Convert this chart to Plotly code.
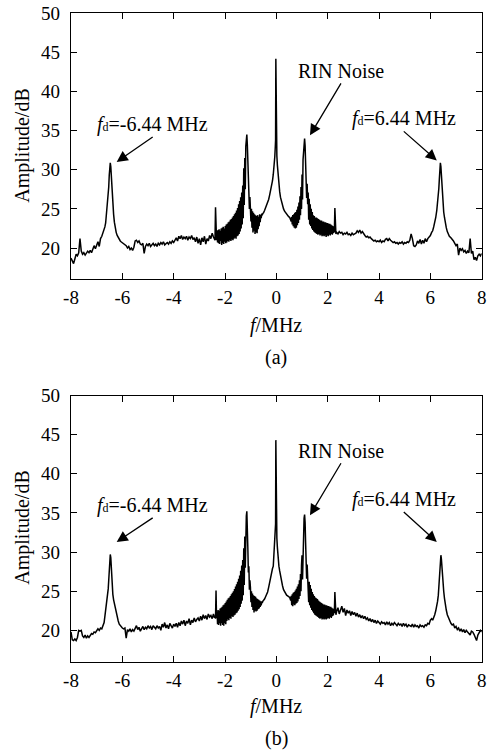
import plotly.graph_objects as go

FONT = "Liberation Serif, Times New Roman, DejaVu Serif, serif"

# ---------------- data (frequency in MHz, amplitude in dB) ----------------
# region 1: left edge baseline
F_R1 = [-8.00,-7.95,-7.90,-7.85,-7.80,-7.75,-7.70,-7.65,-7.60,-7.55,
        -7.50,-7.45,-7.40,-7.35,-7.30,-7.25,-7.20,-7.15,-7.10,-7.05,
        -7.00,-6.95,-6.90,-6.85,-6.80,-6.75]
A_R1 = [18.7,18.4,18.0,18.6,19.2,19.0,19.4,21.2,19.6,19.2,
        19.4,19.1,19.4,19.6,19.4,19.7,19.4,20.0,20.3,19.9,
        20.4,20.8,20.2,21.2,21.5,21.9]
B_R1 = [19.8,18.8,18.7,18.9,18.7,19.1,20.0,19.9,20.0,19.3,
        19.1,19.4,19.0,19.3,19.1,19.4,19.6,19.5,19.8,19.7,
        19.9,20.2,20.0,20.3,20.2,20.6]
# region 2: Doppler peak at -6.44 MHz
F_R2 = [-6.71,-6.68,-6.65,-6.62,-6.59,-6.57,-6.55,-6.53,-6.51,-6.49,
        -6.47,-6.45,-6.43,-6.41,-6.39,-6.37,-6.34,-6.31,-6.28,-6.24,
        -6.20,-6.16,-6.12,-6.08]
A_R2 = [22.3,22.7,23.2,24.2,25.0,25.8,26.6,27.8,29.3,30.6,
        30.9,30.4,29.0,27.2,26.0,25.2,24.3,23.3,22.6,22.0,
        21.6,21.3,21.0,20.9]
B_R2 = [21.0,21.8,22.5,23.1,23.8,24.5,25.3,26.4,27.9,29.2,
        29.7,29.3,28.0,26.5,25.4,24.6,23.9,23.4,22.8,22.2,
        21.7,21.2,20.8,20.6]
# region 3: baseline -6 ... -2.45 MHz
F_R3 = [-6.05,-6.00,-5.95,-5.90,-5.85,-5.80,-5.75,-5.70,-5.65,-5.60,
        -5.55,-5.50,-5.45,-5.40,-5.35,-5.30,-5.25,-5.20,-5.15,-5.10,
        -5.05,-5.00,-4.95,-4.90,-4.85,-4.80,-4.75,-4.70,-4.65,-4.60,
        -4.55,-4.50,-4.45,-4.40,-4.35,-4.30,-4.25,-4.20,-4.15,-4.10,
        -4.05,-4.00,-3.95,-3.90,-3.85,-3.80,-3.75,-3.70,-3.65,-3.60,
        -3.55,-3.50,-3.45,-3.40,-3.35,-3.30,-3.25,-3.20,-3.15,-3.10,
        -3.05,-3.00,-2.95,-2.90,-2.85,-2.80,-2.75,-2.70,-2.65,-2.60,
        -2.55,-2.50,-2.45]
A_R3 = [20.8,20.7,20.5,20.4,20.3,20.0,20.2,19.8,20.0,19.7,
        20.1,20.9,21.0,20.7,20.9,20.5,20.4,20.6,19.3,20.2,
        20.5,20.3,20.6,20.2,20.4,20.6,20.3,20.5,20.2,20.6,
        20.4,20.7,20.5,20.8,20.4,20.6,20.7,20.5,20.8,20.6,
        20.9,20.7,21.0,21.3,20.9,21.5,21.2,21.6,21.1,21.4,
        21.2,21.5,21.0,21.4,21.2,21.6,21.1,21.3,20.8,21.4,
        20.6,21.2,20.4,21.3,20.8,21.5,20.5,21.2,20.9,21.6,
        21.2,21.9,21.4]
B_R3 = [20.5,20.3,20.2,20.3,19.0,20.1,19.9,20.2,19.8,20.1,
        19.9,20.2,20.6,20.1,20.4,19.9,20.3,20.5,20.1,20.4,
        20.2,20.6,20.3,20.5,20.1,20.6,20.4,20.2,20.6,20.3,
        20.5,20.0,20.8,20.4,21.0,20.3,20.7,20.2,20.9,20.5,
        20.3,20.8,20.5,20.9,20.4,21.0,20.6,21.2,20.8,21.3,
        20.6,21.2,20.9,21.5,20.7,21.3,21.0,21.6,21.1,21.4,
        21.6,21.2,21.8,21.3,22.0,21.5,21.9,21.4,22.1,21.7,
        21.9,21.5,22.1]
# region 4: small spike near -2.37 MHz
F_R4 = [-2.41,-2.39,-2.37,-2.35,-2.33]
A_R4 = [21.2,21.0,25.2,21.4,21.0]
B_R4 = [21.6,21.9,21.5,25.1,21.6]
# region 5: dense RIN band left of -1.15 MHz
F_R5 = [-2.31,-2.29,-2.27,-2.25,-2.23,-2.21,-2.19,-2.17,-2.15,-2.13,
        -2.11,-2.09,-2.07,-2.05,-2.03,-2.01,-1.99,-1.97,-1.95,-1.93,
        -1.91,-1.89,-1.87,-1.85,-1.83,-1.81,-1.79,-1.77,-1.75,-1.73,
        -1.71,-1.69,-1.67,-1.65,-1.63,-1.61,-1.59,-1.57,-1.55,-1.53,
        -1.51,-1.49,-1.47,-1.45,-1.43,-1.41,-1.39,-1.37,-1.35,-1.33,
        -1.31,-1.29]
A_R5 = [22.2,20.7,22.3,20.6,22.4,20.5,22.2,20.9,22.5,20.4,
        22.6,20.6,22.7,20.5,22.5,20.8,22.8,20.6,23.0,20.7,
        23.1,20.9,23.3,20.8,23.4,21.0,23.6,20.9,23.7,21.1,
        23.9,21.0,24.1,21.2,24.3,21.3,24.5,21.2,24.8,21.5,
        25.1,21.6,25.6,21.8,26.0,22.1,26.5,22.5,27.1,23.0,
        28.0,23.8]
B_R5 = [22.4,20.8,22.6,20.7,22.5,20.9,22.8,20.6,22.9,20.9,
        23.0,20.7,23.2,20.6,23.3,20.9,23.5,20.8,23.7,21.2,
        23.9,21.4,24.1,21.3,24.2,21.6,24.4,21.5,24.6,21.8,
        24.8,21.7,25.0,21.9,25.3,22.0,25.6,22.2,25.9,22.3,
        26.2,22.5,26.6,22.7,27.0,23.0,27.6,23.4,28.3,23.8,
        29.0,24.5]
# region 6: RIN peak at -1.15 MHz
F_R6 = [-1.27,-1.25,-1.23,-1.21,-1.19,-1.17,-1.15,-1.13,-1.11,-1.09,
        -1.07,-1.05,-1.03]
A_R6 = [30.2,25.5,31.5,27.5,33.0,34.0,34.5,33.2,30.0,27.2,
        28.0,25.0,26.5]
B_R6 = [30.5,25.8,32.0,28.0,33.6,34.6,35.2,33.8,30.4,27.4,
        28.2,25.2,26.4]
# region 7: band between RIN peak and carrier
F_R7 = [-1.01,-0.99,-0.97,-0.95,-0.93,-0.91,-0.89,-0.87,-0.85,-0.83,
        -0.81,-0.79,-0.77,-0.75,-0.73,-0.71,-0.69,-0.67,-0.65,-0.63,
        -0.61,-0.59,-0.57,-0.55,-0.53]
A_R7 = [25.6,23.4,25.0,22.6,24.7,22.0,24.5,22.2,24.3,21.8,
        24.2,22.0,24.1,21.9,24.2,22.4,24.0,22.8,24.3,23.3,
        24.2,23.8,24.4,24.2,24.4]
B_R7 = [25.5,23.6,25.0,23.0,24.7,22.6,24.5,22.3,24.4,22.5,
        24.3,22.4,24.1,22.5,24.0,22.7,23.9,22.8,23.8,23.0,
        23.7,23.2,23.7,23.5,23.7]
# region 8: central carrier
F_R8 = [-0.50,-0.46,-0.42,-0.38,-0.34,-0.30,-0.26,-0.22,-0.18,-0.15,
        -0.12,-0.10,-0.08,-0.06,-0.04,-0.03,-0.02,-0.01,0.00,0.02,
        0.04,0.06,0.08,0.10,0.13,0.16,0.20,0.24,0.28,0.32,
        0.36,0.40,0.44,0.48]
A_R8 = [24.5,24.8,25.1,25.4,25.8,26.2,26.8,27.4,28.0,28.6,
        29.4,30.0,30.8,31.7,33.0,33.8,44.2,33.8,33.2,31.8,
        30.6,29.6,28.7,28.0,27.2,26.5,25.9,25.4,25.0,24.7,
        24.5,24.3,24.1,24.0]
B_R8 = [23.8,24.0,24.3,24.6,24.9,25.5,26.2,27.0,27.6,27.9,
        28.2,29.5,30.6,31.8,33.0,33.6,44.3,33.4,33.0,31.8,
        30.6,29.6,28.8,28.2,27.6,27.0,26.3,25.7,25.2,24.9,
        24.7,24.5,24.4,24.3]
# region 9: band left of +1.1 MHz
F_R9 = [0.52,0.54,0.56,0.58,0.60,0.62,0.64,0.66,0.68,0.70,
        0.72,0.74,0.76,0.78,0.80,0.82,0.84,0.86,0.88,0.90,
        0.92,0.94,0.96,0.98]
A_R9 = [23.9,23.7,23.8,23.4,24.0,23.0,24.2,22.8,24.3,22.6,
        24.5,22.5,24.6,22.6,24.9,22.9,25.3,23.2,25.8,23.6,
        26.6,24.2,27.8,25.0]
B_R9 = [24.2,24.0,23.8,24.4,23.2,24.6,23.1,24.8,23.3,24.9,
        23.2,25.1,23.4,25.3,23.5,25.6,23.7,25.9,24.0,26.4,
        24.4,27.2,25.0,28.3]
# region 10: RIN peak at +1.1 MHz
F_R10 = [1.00,1.02,1.04,1.06,1.08,1.10,1.12,1.14,1.16,1.18,
         1.20,1.22,1.24]
A_R10 = [29.4,26.2,31.3,32.9,33.7,34.0,33.1,30.8,28.9,26.4,
         28.2,25.6,27.1]
B_R10 = [29.6,26.5,31.6,33.3,34.3,34.8,33.8,31.2,29.0,26.6,
         28.4,25.9,27.0]
# region 11: band right of +1.1 MHz
F_R11 = [1.26,1.28,1.30,1.32,1.34,1.36,1.38,1.40,1.42,1.44,
         1.46,1.48,1.50,1.52,1.54,1.56,1.58,1.60,1.62,1.64,
         1.66,1.68,1.70,1.72,1.74,1.76,1.78,1.80,1.82,1.84,
         1.86,1.88,1.90,1.92,1.94,1.96,1.98,2.00,2.02,2.04,
         2.06,2.08,2.10,2.12,2.14,2.16,2.18,2.20,2.22,2.24]
A_R11 = [23.6,26.3,23.0,25.6,22.8,25.0,22.5,24.6,22.3,24.2,
         22.1,24.1,22.0,23.9,21.9,23.9,21.8,23.8,21.7,23.7,
         21.8,23.6,21.6,23.5,21.7,23.5,21.5,23.4,21.6,23.4,
         21.5,23.3,21.6,23.3,21.4,23.2,21.6,23.2,21.5,23.1,
         21.7,23.1,21.6,23.0,21.8,22.9,21.7,22.8,21.9,22.6]
B_R11 = [23.6,26.2,23.2,25.8,22.9,25.3,22.6,24.9,22.4,24.6,
         22.2,24.4,22.0,24.2,21.9,24.1,21.8,24.0,21.7,23.8,
         21.6,23.7,21.5,23.6,21.6,23.5,21.4,23.4,21.5,23.3,
         21.4,23.3,21.5,23.2,21.4,23.2,21.5,23.1,21.6,23.1,
         21.5,23.0,21.7,23.0,21.6,22.9,21.8,22.8,21.9,22.7]
# region 12: small spike near +2.28 MHz
F_R12 = [2.26,2.28,2.30,2.32]
A_R12 = [22.0,25.1,22.0,21.8]
B_R12 = [22.2,24.9,22.3,22.0]
# region 13: baseline 2.35 ... 6.05 MHz
F_R13 = [2.35,2.40,2.45,2.50,2.55,2.60,2.65,2.70,2.75,2.80,
         2.85,2.90,2.95,3.00,3.05,3.10,3.15,3.20,3.25,3.30,
         3.35,3.40,3.45,3.50,3.55,3.60,3.65,3.70,3.75,3.80,
         3.85,3.90,3.95,4.00,4.05,4.10,4.15,4.20,4.25,4.30,
         4.35,4.40,4.45,4.50,4.55,4.60,4.65,4.70,4.75,4.80,
         4.85,4.90,4.95,5.00,5.05,5.10,5.15,5.20,5.25,5.30,
         5.35,5.40,5.45,5.50,5.55,5.60,5.65,5.70,5.75,5.80,
         5.85,5.90,5.95,6.00,6.05]
A_R13 = [22.0,21.8,22.1,21.9,22.0,21.7,21.9,21.8,22.0,21.7,
         21.8,21.6,21.9,21.7,21.8,21.9,22.2,22.0,22.3,21.9,
         22.1,21.8,21.6,21.4,21.5,21.3,21.4,21.2,21.1,20.9,
         21.0,20.8,20.9,20.8,21.0,20.7,20.9,20.8,21.1,21.2,
         20.9,21.2,21.0,20.8,20.7,20.8,20.6,20.7,20.5,20.7,
         20.6,20.8,20.5,20.7,20.6,20.8,20.7,21.0,21.8,21.2,
         20.3,20.2,20.4,20.9,20.6,21.1,20.5,21.0,20.6,21.2,
         20.8,21.2,21.4,21.6,22.0]
B_R13 = [22.4,22.9,22.1,22.7,23.1,22.3,22.8,21.9,22.6,22.2,
         22.5,21.9,22.4,22.0,22.3,21.8,22.2,21.7,22.0,21.6,
         21.9,21.5,21.8,21.4,21.6,21.2,21.5,21.1,21.4,21.0,
         21.3,20.9,21.2,21.0,20.8,21.1,20.9,21.0,20.7,21.1,
         20.8,21.0,20.6,20.9,20.7,21.0,20.8,20.6,20.9,20.7,
         20.8,20.5,20.9,20.6,20.8,20.4,20.7,20.6,20.5,20.8,
         20.4,20.7,20.5,20.6,20.3,20.7,20.5,20.6,20.4,20.7,
         20.6,20.9,20.8,21.3,21.5]
# region 14: Doppler peak at +6.44 MHz
F_R14 = [6.09,6.13,6.17,6.21,6.25,6.28,6.31,6.33,6.35,6.37,
         6.39,6.41,6.43,6.45,6.47,6.49,6.52,6.55,6.58,6.62,
         6.66,6.70,6.74]
A_R14 = [22.2,22.7,23.2,23.9,24.8,25.6,26.6,27.6,28.8,30.2,
         30.9,30.4,29.0,27.6,26.4,25.5,24.6,23.9,23.2,22.6,
         22.1,21.7,21.5]
B_R14 = [21.3,21.6,22.0,22.5,23.1,23.7,24.5,25.3,26.3,27.5,
         28.8,29.6,29.1,27.9,26.8,25.9,25.0,24.1,23.3,22.6,
         22.0,21.6,21.2]
# region 15: right edge baseline
F_R15 = [6.80,6.85,6.90,6.95,7.00,7.05,7.10,7.15,7.20,7.25,
         7.30,7.35,7.40,7.45,7.50,7.55,7.60,7.65,7.70,7.75,
         7.80,7.85,7.90,7.95,8.00]
A_R15 = [21.3,21.0,20.9,20.6,20.3,20.5,19.1,20.0,19.7,19.9,
         19.5,19.7,19.3,19.6,19.4,21.2,19.3,19.6,18.5,18.8,
         18.4,19.0,19.2,19.0,19.3]
B_R15 = [20.9,20.7,20.8,20.3,20.5,20.1,20.3,19.9,20.2,19.8,
         20.1,19.7,20.0,19.8,19.6,19.4,19.9,19.8,19.5,19.2,
         18.7,19.4,19.7,20.0,19.8]

X_TICKS = [-8, -6, -4, -2, 0, 2, 4, 6, 8]
X_TICKTEXT = ["-8", "-6", "-4", "-2", "0", "2", "4", "6", "8"]
Y_TICKS = [20, 25, 30, 35, 40, 45, 50]
SUB_D = "<span style='font-size:12px'>d</span>"
LBL_DOPPLER_NEG = "<i>f</i>" + SUB_D + "=-6.44 MHz"
LBL_DOPPLER_POS = "<i>f</i>" + SUB_D + "=6.44 MHz"
LBL_RIN = "RIN Noise"

regions = [
    (F_R1, A_R1, B_R1), (F_R2, A_R2, B_R2), (F_R3, A_R3, B_R3),
    (F_R4, A_R4, B_R4), (F_R5, A_R5, B_R5), (F_R6, A_R6, B_R6),
    (F_R7, A_R7, B_R7), (F_R8, A_R8, B_R8), (F_R9, A_R9, B_R9),
    (F_R10, A_R10, B_R10), (F_R11, A_R11, B_R11), (F_R12, A_R12, B_R12),
    (F_R13, A_R13, B_R13), (F_R14, A_R14, B_R14), (F_R15, A_R15, B_R15),
]
FREQ, AMP_A, AMP_B = [], [], []
for i, (f, a, b) in enumerate(regions, 1):
    if not (len(f) == len(a) == len(b)):
        raise ValueError(f"region {i}: {len(f)} {len(a)} {len(b)}")
    FREQ += f
    AMP_A += a
    AMP_B += b

# ---------------- layout geometry ----------------
W, H = 491, 751
def px(x):
    return x / W
def py(y):
    return 1 - y / H

X_DOM = [px(71), px(481.7)]
Y_DOM_A = [py(279.3), py(13.3)]
Y_DOM_B = [py(661.7), py(395.5)]

fig = go.Figure()
line = dict(color="black", width=1.5)
fig.add_trace(go.Scatter(x=FREQ, y=AMP_A, mode="lines", line=line,
                         xaxis="x", yaxis="y", showlegend=False))
fig.add_trace(go.Scatter(x=FREQ, y=AMP_B, mode="lines", line=line,
                         xaxis="x2", yaxis="y2", showlegend=False))

tickfont = dict(family=FONT, size=19, color="black")
common = dict(showline=True, linecolor="black", linewidth=1.2, mirror="ticks",
              ticks="inside", ticklen=6, tickwidth=1.2, tickcolor="black",
              showgrid=False, zeroline=False, tickfont=tickfont,
              automargin=False, fixedrange=True)

fig.update_layout(
    width=W, height=H,
    margin=dict(l=0, r=0, t=0, b=0),
    paper_bgcolor="white", plot_bgcolor="white",
    font=dict(family=FONT, color="black"),
    xaxis=dict(domain=X_DOM, anchor="y", range=[-8, 8], tickvals=X_TICKS,
               ticktext=X_TICKTEXT, ticklabelstandoff=1, **common),
    yaxis=dict(domain=Y_DOM_A, anchor="x", range=[16, 50], tickvals=Y_TICKS,
               ticklabelstandoff=6, **common),
    xaxis2=dict(domain=X_DOM, anchor="y2", range=[-8, 8], tickvals=X_TICKS,
                ticktext=X_TICKTEXT, ticklabelstandoff=1, **common),
    yaxis2=dict(domain=Y_DOM_B, anchor="x2", range=[16, 50], tickvals=Y_TICKS,
                ticklabelstandoff=6, **common),
)

ann = []
tfont = dict(family=FONT, size=20, color="black")
def text(x, y, s, angle=0):
    ann.append(dict(x=px(x), y=py(y), xref="paper", yref="paper", text=s,
                    showarrow=False, xanchor="center", yanchor="middle",
                    font=tfont, textangle=angle))

def label_arrow(xr, yr, s, fx, fy, ax, ay):
    # text sits just above the arrow tail; arrow head points at (fx, fy)
    ann.append(dict(x=fx, y=fy, xref=xr, yref=yr, text=s, font=tfont,
                    showarrow=True, ax=ax, ay=ay, xanchor="center",
                    yanchor="bottom", arrowhead=2, arrowsize=1.7,
                    arrowwidth=1.3, arrowcolor="black", standoff=0,
                    borderpad=0))

# panel (a)
text(21.7, 146, "Amplitude/dB", -90)
text(276, 325, "<i>f</i>/MHz")
text(276, 358, "(a)")
label_arrow("x", "y", LBL_DOPPLER_NEG, -6.22, 31.0, 36, -25)
label_arrow("x", "y", LBL_RIN, 1.31, 34.4, 31, -52)
label_arrow("x", "y", LBL_DOPPLER_POS, 6.25, 31.2, -33, -29)

# panel (b)
text(21.7, 528, "Amplitude/dB", -90)
text(276, 706, "<i>f</i>/MHz")
text(276, 738, "(b)")
label_arrow("x2", "y2", LBL_DOPPLER_NEG, -6.22, 31.3, 36, -24)
label_arrow("x2", "y2", LBL_RIN, 1.31, 34.7, 31, -52)
label_arrow("x2", "y2", LBL_DOPPLER_POS, 6.25, 31.3, -33, -30)

fig.update_layout(annotations=ann)
fig.write_html(
    "out.html",
    config={"displayModeBar": False},
    post_script="document.body.style.margin='0';"
                "document.body.style.overflow='hidden';",
)
